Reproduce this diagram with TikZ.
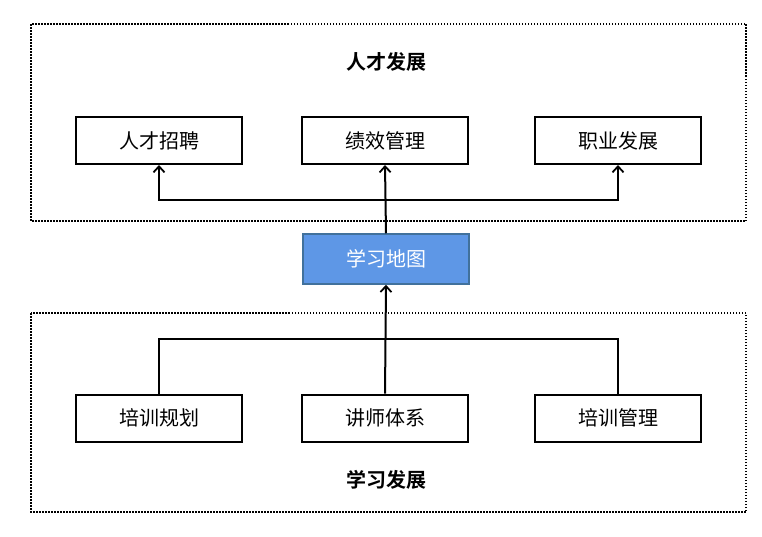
\documentclass[tikz,border=0pt]{standalone}
\usepackage{fontspec}
\newfontfamily\cjk{Noto Sans CJK SC}[BoldFont={Noto Sans CJK SC Bold}]
\usetikzlibrary{arrows.meta}
\definecolor{mapfill}{HTML}{5E97E6}
\definecolor{mapline}{HTML}{41719C}
\tikzset{
	unitbox/.style={draw,line width=2pt,minimum width=166pt,minimum height=47pt,font=\cjk\fontsize{20}{20}\selectfont},
	mapbox/.style={draw=mapline,fill=mapfill,line width=1.5pt,minimum width=166pt,minimum height=50pt,text=white,font=\cjk\fontsize{20}{20}\selectfont},
	areabox/.style={line width=1.5pt,dash pattern=on 1.5pt off 1.5pt},
	areatitle/.style={font=\cjk\bfseries\fontsize{20}{20}\selectfont},
	link/.style={line width=2pt},
	uparrow/.style={link,-{Straight Barb[length=6pt,width=11pt,line width=1.8pt]}}
}
\begin{document}
\begin{tikzpicture}[x=1pt,y=-1pt]
	\useasboundingbox (0,0) rectangle (762,536);
	%talent area
		\draw[areabox] (31,24) rectangle (746,221);
		\node[areatitle] (talent) at (386,62) {人才发展};
		\node[unitbox] (zhaopin) at (159,140.5) {人才招聘};
		\node[unitbox] (jixiao) at (385,140.5) {绩效管理};
		\node[unitbox] (zhiye) at (618,140.5) {职业发展};
	%learning area
		\draw[areabox] (31,313) rectangle (746,512);
		\node[areatitle] (learning) at (386,480) {学习发展};
		\node[unitbox] (guihua) at (159,418) {培训规划};
		\node[unitbox] (jiangshi) at (385,418) {讲师体系};
		\node[unitbox] (guanli) at (618,418) {培训管理};
	%map
		\node[mapbox] (map) at (386,259) {学习地图};
	% links up
		\coordinate (tophub) at (386,200);
		\draw[uparrow] (map.north) -- (jixiao.south);
		\draw[uparrow] (tophub) -| (zhaopin.south);
		\draw[uparrow] (tophub) -| (zhiye.south);
	% links down
		\coordinate (bothub) at (386,339);
		\draw[uparrow] (jiangshi.north) -- (map.south);
		\draw[link] (guihua.north) |- (bothub) -| (guanli.north);
\end{tikzpicture}
\end{document}
